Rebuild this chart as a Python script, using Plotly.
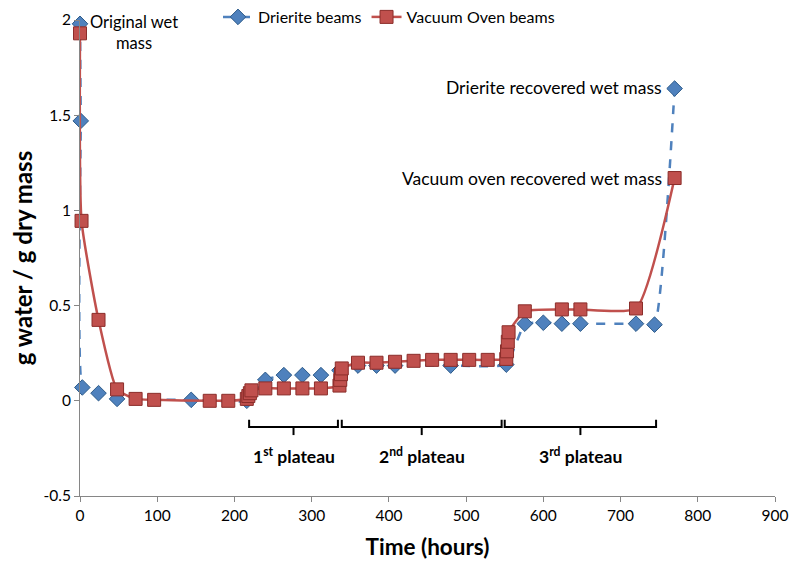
import plotly.graph_objects as go

# Drierite beams (blue, dashed, diamonds)
drierite_t = [0, 1, 3, 24, 48, 144, 216, 240, 264, 288, 312, 336, 360, 384, 408, 480, 552, 576, 600, 624, 648, 720, 744, 770]
drierite_v = [1.98, 1.47, 0.07, 0.04, 0.01, 0.005, 0.0, 0.11, 0.135, 0.135, 0.135, 0.16, 0.185, 0.185, 0.185, 0.185, 0.19, 0.405, 0.41, 0.405, 0.405, 0.405, 0.40, 1.64]

# Vacuum oven beams (red, solid, squares)
oven_t = [0, 2, 24, 48, 72, 96, 168, 192, 216, 218, 220, 222, 240, 264, 288, 312, 336, 337, 338, 339, 360, 384, 408, 432, 456, 480, 504, 528, 552, 553, 554, 555, 576, 624, 648, 720, 770]
oven_v = [1.93, 0.945, 0.425, 0.06, 0.01, 0.005, 0.0, 0.0, 0.01, 0.025, 0.04, 0.055, 0.065, 0.065, 0.065, 0.065, 0.08, 0.11, 0.14, 0.17, 0.2, 0.2, 0.205, 0.21, 0.215, 0.215, 0.215, 0.215, 0.22, 0.26, 0.31, 0.36, 0.47, 0.48, 0.48, 0.485, 1.17]

x_ticks = [0, 100, 200, 300, 400, 500, 600, 700, 800, 900]
y_ticks = [-0.5, 0, 0.5, 1, 1.5, 2]
y_tick_text = ["-0.5", "0", "0.5", "1", "1.5", "2"]

# plateau brackets: (start, end, label)
plateaus = [(219, 334, "1<sup>st</sup> plateau"), (339, 546, "2<sup>nd</sup> plateau"), (550, 746, "3<sup>rd</sup> plateau")]

FONT = "Lato"
BLUE = "#4F81BD"
RED = "#C0504D"

# page body adds an 8px offset; figure sized to fit inside the window
OFF = 8
W, H = 800 - 2 * OFF, 569 - 2 * OFF
# plot area in screen pixels: x 80..775, y 20..496
L, R, T, B = 80 - OFF, W - (775 - OFF), 20 - OFF, H - (496 - OFF)
PW = W - L - R
PH = H - T - B


def px(xs):
    return (xs - OFF - L) / PW


def py(ys):
    return (H - B - (ys - OFF)) / PH


fig = go.Figure()
fig.add_trace(go.Scatter(
    x=drierite_t, y=drierite_v, name="Drierite beams", mode="lines+markers",
    line=dict(color=BLUE, width=2.5, dash="dash", shape="spline", smoothing=0.35),
    marker=dict(symbol="diamond", size=12, color=BLUE, line=dict(color="#2E5C8A", width=1)),
    cliponaxis=False,
))
fig.add_trace(go.Scatter(
    x=oven_t, y=oven_v, name="Vacuum Oven beams", mode="lines+markers",
    line=dict(color=RED, width=2.5, shape="spline", smoothing=0.5),
    marker=dict(symbol="square", size=13, color=RED, line=dict(color="#8B2D2A", width=1)),
    cliponaxis=False,
))

# brackets
for s, e, lab in plateaus:
    m = (s + e) / 2
    fig.add_shape(type="path",
                  path=f"M {s},-0.1 L {s},-0.137 L {e},-0.137 L {e},-0.1",
                  line=dict(color="black", width=2), xref="x", yref="y")
    fig.add_shape(type="line", x0=m, x1=m, y0=-0.137, y1=-0.18,
                  line=dict(color="black", width=2), xref="x", yref="y")
    fig.add_annotation(x=m, y=-0.285, text=f"<b>{lab}</b>", showarrow=False,
                       font=dict(family=FONT, size=17.5, color="black"), xref="x", yref="y")

fig.add_annotation(x=px(134), y=py(32), xref="paper", yref="paper",
                   text="Original wet<br>mass", showarrow=False, align="center",
                   xanchor="center", yanchor="middle",
                   font=dict(family=FONT, size=16.5, color="black"))
fig.add_annotation(x=px(664), y=py(87), xref="paper", yref="paper",
                   text="Drierite recovered wet mass", showarrow=False,
                   xanchor="right", yanchor="middle",
                   font=dict(family=FONT, size=17.5, color="black"))
fig.add_annotation(x=px(664), y=py(178), xref="paper", yref="paper",
                   text="Vacuum oven recovered wet mass", showarrow=False,
                   xanchor="right", yanchor="middle",
                   font=dict(family=FONT, size=17.5, color="black"))

fig.update_layout(
    width=W, height=H,
    margin=dict(l=L, r=R, t=T, b=B, autoexpand=False),
    paper_bgcolor="white", plot_bgcolor="white",
    font=dict(family=FONT, size=15.5, color="black"),
    showlegend=True,
    legend=dict(orientation="h", x=px(218), xanchor="left",
                yref="container", y=1 - (17 - OFF) / H, yanchor="middle",
                font=dict(family=FONT, size=16), bgcolor="rgba(0,0,0,0)",
                tracegroupgap=0),
    xaxis=dict(range=[0, 900], tickvals=x_ticks, showgrid=False, zeroline=False,
               showline=True, linecolor="#868686", linewidth=1, ticks="outside",
               ticklen=5, tickcolor="#868686", automargin=False,
               title=dict(text="<b>Time (hours)</b>", font=dict(family=FONT, size=22.5), standoff=16)),
    yaxis=dict(range=[-0.5, 2], tickvals=y_ticks, ticktext=y_tick_text,
               showgrid=False, zeroline=False,
               showline=True, linecolor="#868686", linewidth=1, ticks="outside",
               ticklen=5, tickcolor="#868686", automargin=False,
               title=dict(text="<b>g water / g dry mass</b>", font=dict(family=FONT, size=24), standoff=9)),
)

fig.write_html("out.html")
